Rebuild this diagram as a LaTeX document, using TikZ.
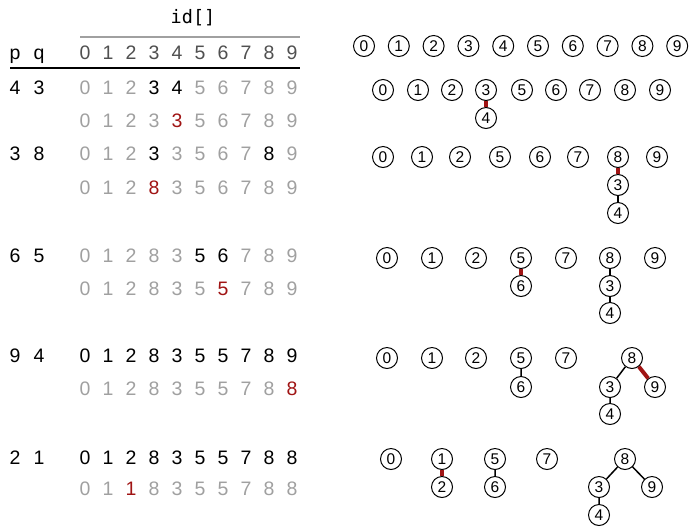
\documentclass[tikz,border=0pt]{standalone}
\usepackage{fontspec}
\setmainfont{Liberation Sans}
\setmonofont{DejaVu Sans Mono}
\definecolor{faded}{RGB}{160,160,160}
\definecolor{dim}{RGB}{80,80,80}
\definecolor{hilite}{RGB}{160,20,20}
\begin{document}
\begin{tikzpicture}[x=1pt,y=-1pt,
	cell/.style={inner sep=0pt,text height=14pt,text depth=0pt,font=\fontsize{19.5}{21}\selectfont},
	site/.style={circle,draw=black,line width=1pt,minimum size=21pt,inner sep=0pt,font=\fontsize{15.5}{17}\selectfont},
	link/.style={line width=1.5pt},
	newlink/.style={line width=4pt,hilite}]
	\useasboundingbox (0,0) rectangle (700,531);
	%% the id[] table
	\node[font=\ttfamily\fontsize{18.5}{20}\selectfont] (title) at (193,18) {id[]};
	\draw[faded,line width=1.4pt] (80,37) -- (300,37);
	\draw[line width=1.4pt] (10,68) -- (300,68);
	\node[cell] (hp) at (15,52) {p};
	\node[cell] (hq) at (39,52) {q};
	\foreach \i in {0,...,9} \node[cell,dim] (h\i) at ({85+23*\i},52) {\i};
	% union(4,3)
	\node[cell] (p1) at (15,87) {4};
	\node[cell] (q1) at (39,87) {3};
	\foreach \v/\c [count=\i from 0] in {0/faded,1/faded,2/faded,3/black,4/black,5/faded,6/faded,7/faded,8/faded,9/faded}
	\node[cell,\c] (r1-\i) at ({85+23*\i},87) {\v};
	\foreach \v/\c [count=\i from 0] in {0/faded,1/faded,2/faded,3/faded,3/hilite,5/faded,6/faded,7/faded,8/faded,9/faded}
	\node[cell,\c] (s1-\i) at ({85+23*\i},120) {\v};
	% union(3,8)
	\node[cell] (p2) at (15,153) {3};
	\node[cell] (q2) at (39,153) {8};
	\foreach \v/\c [count=\i from 0] in {0/faded,1/faded,2/faded,3/black,3/faded,5/faded,6/faded,7/faded,8/black,9/faded}
	\node[cell,\c] (r2-\i) at ({85+23*\i},153) {\v};
	\foreach \v/\c [count=\i from 0] in {0/faded,1/faded,2/faded,8/hilite,3/faded,5/faded,6/faded,7/faded,8/faded,9/faded}
	\node[cell,\c] (s2-\i) at ({85+23*\i},187) {\v};
	% union(6,5)
	\node[cell] (p3) at (15,255) {6};
	\node[cell] (q3) at (39,255) {5};
	\foreach \v/\c [count=\i from 0] in {0/faded,1/faded,2/faded,8/faded,3/faded,5/black,6/black,7/faded,8/faded,9/faded}
	\node[cell,\c] (r3-\i) at ({85+23*\i},255) {\v};
	\foreach \v/\c [count=\i from 0] in {0/faded,1/faded,2/faded,8/faded,3/faded,5/faded,5/hilite,7/faded,8/faded,9/faded}
	\node[cell,\c] (s3-\i) at ({85+23*\i},288) {\v};
	% union(9,4)
	\node[cell] (p4) at (15,355) {9};
	\node[cell] (q4) at (39,355) {4};
	\foreach \v [count=\i from 0] in {0,1,2,8,3,5,5,7,8,9}
	\node[cell] (r4-\i) at ({85+23*\i},355) {\v};
	\foreach \v/\c [count=\i from 0] in {0/faded,1/faded,2/faded,8/faded,3/faded,5/faded,5/faded,7/faded,8/faded,8/hilite}
	\node[cell,\c] (s4-\i) at ({85+23*\i},388) {\v};
	% union(2,1)
	\node[cell] (p5) at (15,457) {2};
	\node[cell] (q5) at (39,457) {1};
	\foreach \v [count=\i from 0] in {0,1,2,8,3,5,5,7,8,8}
	\node[cell] (r5-\i) at ({85+23*\i},457) {\v};
	\foreach \v/\c [count=\i from 0] in {0/faded,1/faded,1/hilite,8/faded,3/faded,5/faded,5/faded,7/faded,8/faded,8/faded}
	\node[cell,\c] (s5-\i) at ({85+23*\i},488) {\v};
	%% the forests
	\foreach \s in {0,...,9} \node[site] (a\s) at ({364+34.8*\s},46) {\s};
	% after union(4,3)
	\foreach \s/\x in {0/383,1/418,2/452,3/486,5/522,6/556,7/590,8/625,9/660}
	\node[site] (b\s) at (\x,90) {\s};
	\node[site] (b4) at (486,118) {4};
	\draw[newlink] (b3) -- (b4);
	% after union(3,8)
	\foreach \s/\x in {0/383,1/422,2/460,5/500,6/540,7/578,8/618,9/657}
	\node[site] (c\s) at (\x,157) {\s};
	\node[site] (c3) at (618,185) {3};
	\node[site] (c4) at (618,213) {4};
	\draw[newlink] (c8) -- (c3);
	\draw[link] (c3) -- (c4);
	% after union(6,5)
	\foreach \s/\x in {0/387,1/432,2/476,5/521,7/566,8/610,9/655}
	\node[site] (d\s) at (\x,258) {\s};
	\node[site] (d6) at (521,286) {6};
	\node[site] (d3) at (610,286) {3};
	\node[site] (d4) at (610,313) {4};
	\draw[newlink] (d5) -- (d6);
	\draw[link] (d8) -- (d3) (d3) -- (d4);
	% after union(9,4)
	\foreach \s/\x in {0/387,1/432,2/476,5/521,7/566,8/632}
	\node[site] (e\s) at (\x,358) {\s};
	\node[site] (e6) at (521,387) {6};
	\node[site] (e3) at (610,387) {3};
	\node[site] (e9) at (655,387) {9};
	\node[site] (e4) at (610,414) {4};
	\draw[newlink] (e8) -- (e9);
	\draw[link] (e5) -- (e6) (e8) -- (e3) (e3) -- (e4);
	% after union(2,1)
	\foreach \s/\x in {0/391,1/442,5/495,7/547,8/625}
	\node[site] (f\s) at (\x,459) {\s};
	\node[site] (f2) at (442,487) {2};
	\node[site] (f6) at (495,487) {6};
	\node[site] (f3) at (599,487) {3};
	\node[site] (f9) at (652,487) {9};
	\node[site] (f4) at (599,515) {4};
	\draw[newlink] (f1) -- (f2);
	\draw[link] (f5) -- (f6) (f8) -- (f3) (f8) -- (f9) (f3) -- (f4);
\end{tikzpicture}
\end{document}
